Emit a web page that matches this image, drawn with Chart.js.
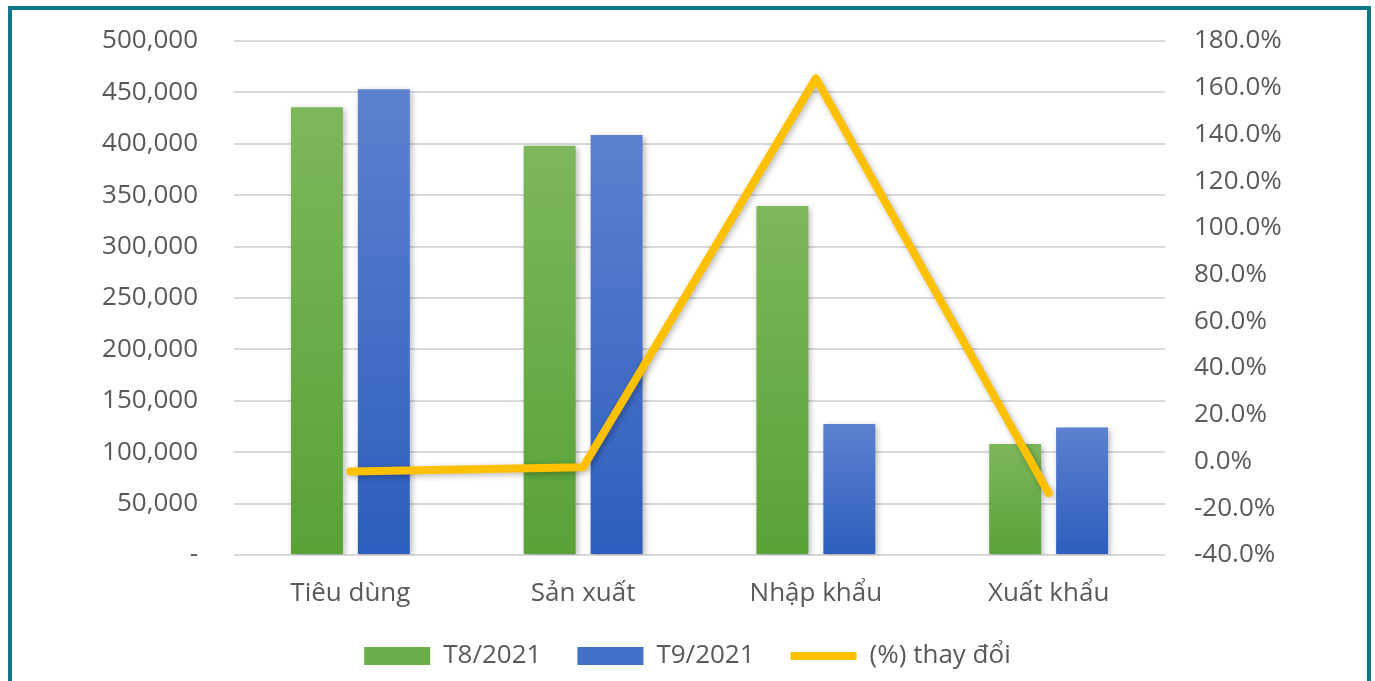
<!DOCTYPE html>
<html>
<head>
<meta charset="utf-8">
<script src="https://cdn.jsdelivr.net/npm/chart.js@4/dist/chart.umd.min.js"></script>
<style>
  html, body { margin: 0; padding: 0; background: #fff; overflow: hidden; }
  #wrap { position: relative; width: 1375px; height: 681px; }
  #frame {
    position: absolute; left: 8px; top: 6px; width: 1355px; height: 700px;
    border: 4px solid #117788; border-bottom: none;
  }
  #chart { position: absolute; left: 0; top: 0; }
</style>
</head>
<body>
<div id="wrap">
  <div id="frame"></div>
  <canvas id="chart" width="1375" height="681"></canvas>
</div>
<script>
const categories = ["Tiêu dùng", "Sản xuất", "Nhập khẩu", "Xuất khẩu"];
const t8Values = [435500, 398000, 339500, 108000];
const t9Values = [453000, 408500, 127500, 124000];
const changeValues = [-4.3, -2.4, 164.0, -13.5];
const seriesNames = ["T8/2021", "T9/2021", "(%) thay đổi"];

const FONT = "'Open Sans', 'Noto Sans', sans-serif";
const TEXT = "#595959";
// small lineHeight keeps the axis label padding from pushing the plot area down
const axisFont = { family: FONT, size: 26, lineHeight: 0.2 };

function barGradient(top, bottom) {
  return function (context) {
    const chart = context.chart;
    const area = chart.chartArea;
    if (!area || context.type !== "data") return bottom;
    const y = chart.scales.y.getPixelForValue(context.raw);
    const g = chart.ctx.createLinearGradient(0, y, 0, area.bottom);
    g.addColorStop(0, top);
    g.addColorStop(1, bottom);
    return g;
  };
}

const shadowPlugin = {
  id: "shadow",
  beforeDatasetsDraw(chart) {
    const ctx = chart.ctx;
    ctx.save();
    ctx.shadowColor = "rgba(0,0,0,0.28)";
    ctx.shadowBlur = 6;
    ctx.shadowOffsetX = 2;
    ctx.shadowOffsetY = 2;
  },
  afterDatasetsDraw(chart) {
    chart.ctx.restore();
  },
};

new Chart(document.getElementById("chart").getContext("2d"), {
  type: "bar",
  data: {
    labels: categories,
    datasets: [
      {
        label: seriesNames[0],
        data: t8Values,
        backgroundColor: barGradient("#7db75c", "#58a236"),
        legendColor: "#6bad48",
        yAxisID: "y",
        order: 1,
      },
      {
        label: seriesNames[1],
        data: t9Values,
        backgroundColor: barGradient("#5c81cf", "#2d5ebd"),
        legendColor: "#426fc7",
        yAxisID: "y",
        order: 1,
      },
      {
        type: "line",
        label: seriesNames[2],
        data: changeValues,
        borderColor: "#ffc000",
        backgroundColor: "#ffc000",
        borderWidth: 8,
        borderJoinStyle: "round",
        borderCapStyle: "round",
        pointRadius: 0,
        tension: 0,
        yAxisID: "y1",
        order: 0,
      },
    ],
  },
  options: {
    responsive: false,
    animation: false,
    datasets: {
      bar: { categoryPercentage: 0.575, barPercentage: 0.776 },
    },
    layout: { padding: { top: 41, bottom: 2, left: 0, right: 0 } },
    plugins: {
      tooltip: { enabled: false },
      legend: {
        position: "bottom",
        labels: {
          font: { family: FONT, size: 26 },
          color: TEXT,
          usePointStyle: true,
          pointStyleWidth: 66,
          boxHeight: 18,
          padding: 36,
          generateLabels(chart) {
            return chart.data.datasets.map((ds, i) => ({
              text: ds.label,
              datasetIndex: i,
              fillStyle: ds.type === "line" ? ds.borderColor : ds.legendColor,
              strokeStyle: ds.type === "line" ? ds.borderColor : ds.legendColor,
              lineWidth: ds.type === "line" ? 8 : 0,
              pointStyle: ds.type === "line" ? "line" : "rect",
              fontColor: TEXT,
              hidden: false,
            }));
          },
        },
      },
    },
    scales: {
      x: {
        grid: { display: false, drawTicks: false },
        border: { display: false },
        ticks: { font: { family: FONT, size: 26 }, color: TEXT, padding: 23 },
        afterFit(scale) { scale.height = 52; },
      },
      y: {
        position: "left",
        min: 0,
        max: 500000,
        grid: { color: "#d9d9d9", lineWidth: 2, drawTicks: false },
        border: { display: false },
        ticks: {
          stepSize: 50000,
          padding: 36,
          font: axisFont,
          color: TEXT,
          callback: (v) => (v === 0 ? "-" : v.toLocaleString("en-US")),
        },
        afterFit(scale) { scale.width = 234; },
      },
      y1: {
        position: "right",
        min: -40,
        max: 180,
        grid: { display: false, drawTicks: false },
        border: { display: false },
        ticks: {
          stepSize: 20,
          padding: 29,
          font: axisFont,
          color: TEXT,
          callback: (v) => v.toFixed(1) + "%",
        },
        afterFit(scale) { scale.width = 210; },
      },
    },
  },
  plugins: [shadowPlugin],
});
</script>
</body>
</html>
